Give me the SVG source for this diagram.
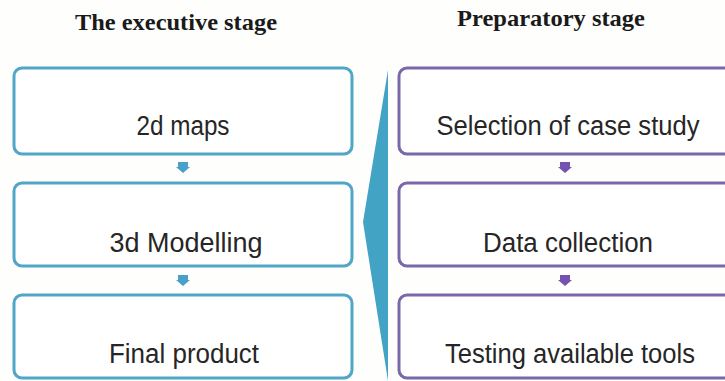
<svg xmlns="http://www.w3.org/2000/svg" width="725" height="381" viewBox="0 0 725 381">
  <defs>
    <style>
      .title { font-family: "Liberation Serif", serif; font-weight: bold; font-size: 23px; fill: #1a1a1a; text-anchor: middle; }
      .label { font-family: "Liberation Sans", Arial, sans-serif; font-size: 27px; fill: #262626; text-anchor: middle; }
      .exec { fill: #ffffff; stroke: #4fa6c6; stroke-width: 3; }
      .prep { fill: #ffffff; stroke: #7a69a8; stroke-width: 3; }
      .execArrow { fill: #4a9fcb; }
      .prepArrow { fill: #7453b0; }
    </style>
  </defs>
  <rect x="0" y="0" width="725" height="381" fill="#fefefd"/>

  <!-- column headings -->
  <text class="title" x="176" y="30" textLength="202" lengthAdjust="spacingAndGlyphs">The executive stage</text>
  <text class="title" x="551" y="26" textLength="188" lengthAdjust="spacingAndGlyphs">Preparatory stage</text>

  <!-- large pointer between the two columns -->
  <polygon points="388,70 363,222 388,381" fill="#42a3c4"/>

  <!-- executive stage -->
  <g id="maps2d">
    <rect class="exec" x="14" y="68" width="338" height="86" rx="8"/>
    <text class="label" x="183" y="135" textLength="93" lengthAdjust="spacingAndGlyphs">2d maps</text>
  </g>
  <g id="modelling3d">
    <rect class="exec" x="14" y="183" width="338" height="83" rx="8"/>
    <text class="label" x="186" y="252" textLength="153" lengthAdjust="spacingAndGlyphs">3d Modelling</text>
  </g>
  <g id="finalProduct">
    <rect class="exec" x="14" y="295" width="338" height="83" rx="8"/>
    <text class="label" x="184" y="363" textLength="150" lengthAdjust="spacingAndGlyphs">Final product</text>
  </g>

  <!-- preparatory stage -->
  <g id="caseStudy">
    <rect class="prep" x="399" y="68" width="334" height="86" rx="8"/>
    <text class="label" x="568" y="135" textLength="263" lengthAdjust="spacingAndGlyphs">Selection of case study</text>
  </g>
  <g id="dataCollection">
    <rect class="prep" x="399" y="183" width="334" height="83" rx="8"/>
    <text class="label" x="568" y="252" textLength="170" lengthAdjust="spacingAndGlyphs">Data collection</text>
  </g>
  <g id="testingTools">
    <rect class="prep" x="399" y="295" width="334" height="83" rx="8"/>
    <text class="label" x="570" y="363" textLength="250" lengthAdjust="spacingAndGlyphs">Testing available tools</text>
  </g>

  <!-- connectors -->
  <g id="connectors">
    <path class="execArrow" d="M178,162 h10 v5 h2 l-7,6 l-7,-6 h2 z"/>
    <path class="execArrow" d="M178,275 h10 v5 h2 l-7,6 l-7,-6 h2 z"/>
    <path class="prepArrow" d="M560,162 h10 v5 h2 l-7,6 l-7,-6 h2 z"/>
    <path class="prepArrow" d="M560,275 h10 v5 h2 l-7,6 l-7,-6 h2 z"/>
  </g>
</svg>
